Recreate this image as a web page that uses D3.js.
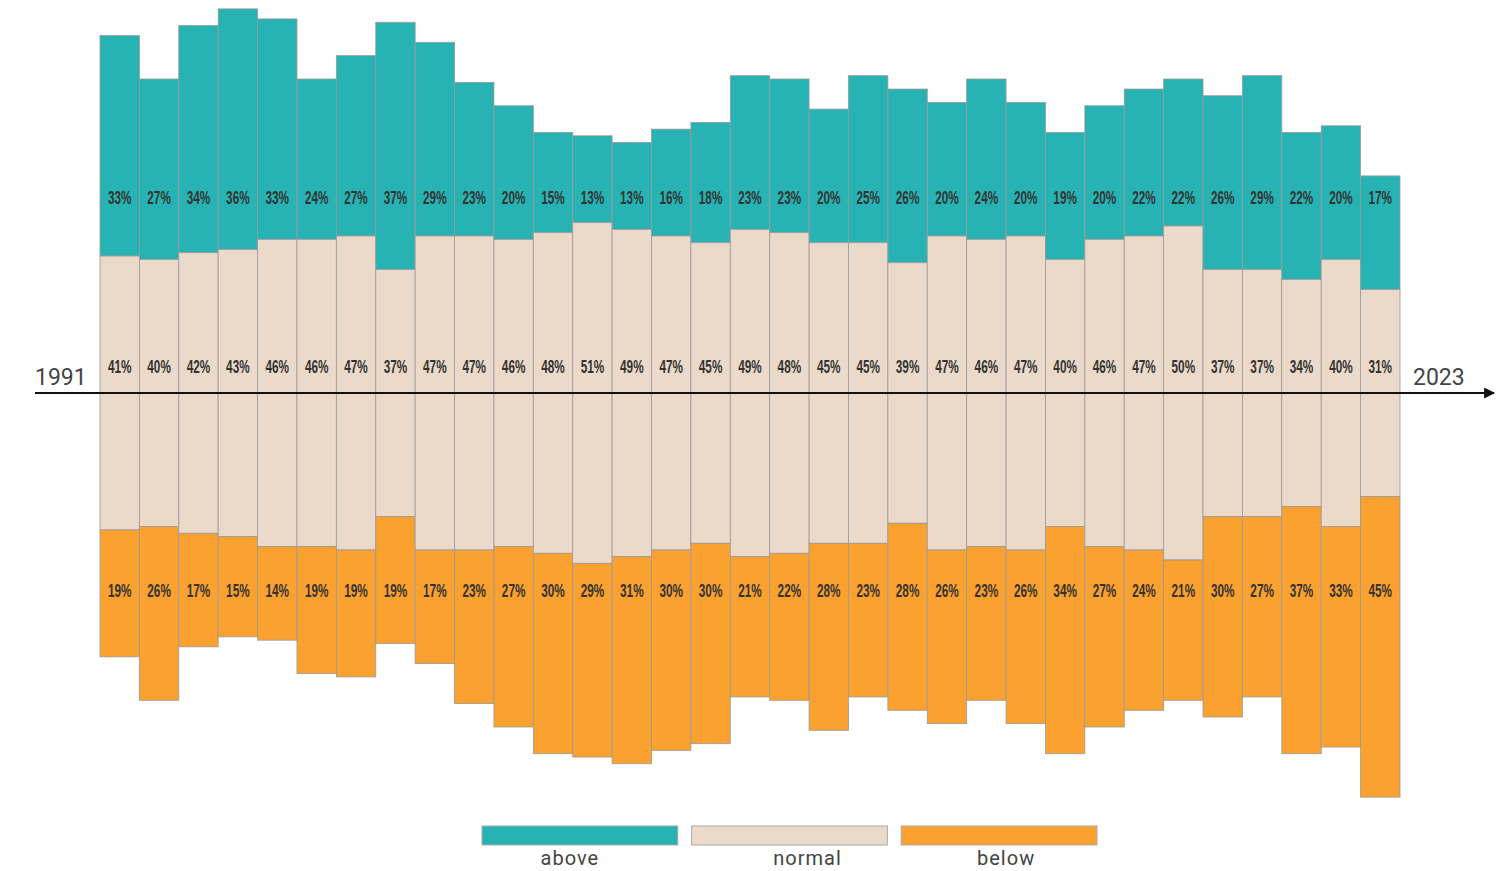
<!DOCTYPE html>
<html lang="en">
<head>
    <meta charset="UTF-8">
    <title>Above / normal / below</title>
    <script src="https://d3js.org/d3.v7.min.js"></script>
    <style>
        body { margin: 0; background: #fff; }
        svg { display: block; }
        .pct { font-family: "Liberation Sans", Arial, sans-serif; font-weight: bold; fill: #333; }
        .yr { font-family: Roboto, "Liberation Sans", sans-serif; fill: #444; }
        .leg { font-family: Roboto, "Liberation Sans", sans-serif; fill: #444; letter-spacing: 1px; }
    </style>
</head>
<body>
    <svg width="1507" height="871"></svg>
    <script>
        // data (% per year)
        const years = d3.range(1991, 2024);
        const above = [33, 27, 34, 36, 33, 24, 27, 37, 29, 23, 20, 15, 13, 13, 16, 18, 23, 23, 20, 25, 26, 20, 24, 20, 19, 20, 22, 22, 26, 29, 22, 20, 17];
        const normal = [41, 40, 42, 43, 46, 46, 47, 37, 47, 47, 46, 48, 51, 49, 47, 45, 49, 48, 45, 45, 39, 47, 46, 47, 40, 46, 47, 50, 37, 37, 34, 40, 31];
        const below = [19, 26, 17, 15, 14, 19, 19, 19, 17, 23, 27, 30, 29, 31, 30, 30, 21, 22, 28, 23, 28, 26, 23, 26, 34, 27, 24, 21, 30, 27, 37, 33, 45];
        const legendLabels = ['above', 'normal', 'below'];
        const colors = ['#27b3b3', '#ebdac9', '#fba12f'];

        const svg = d3.select('svg');
        const axisY = 393;

        const x = d3.scaleBand()
            .domain(years)
            .range([100, 1400])
            .padding(0);

        // percent -> pixel length
        const k = d3.scaleLinear().domain([0, 100]).range([0, 668]);

        const rows = years.map((yr, i) => {
            const nTop = axisY - k(normal[i]) / 2;
            const nBot = axisY + k(normal[i]) / 2;
            return {
                yr,
                segs: [
                    { y0: nTop - k(above[i]), y1: nTop, v: above[i], c: 0 },
                    { y0: nTop, y1: nBot, v: normal[i], c: 1 },
                    { y0: nBot, y1: nBot + k(below[i]), v: below[i], c: 2 }
                ]
            };
        });

        const g = svg.append('g');

        const cols = g.selectAll('g.col')
            .data(rows)
            .enter()
            .append('g')
            .attr('class', 'col')
            .attr('transform', d => `translate(${x(d.yr)},0)`);

        cols.selectAll('rect')
            .data(d => d.segs)
            .enter()
            .append('rect')
            .attr('x', 0)
            .attr('y', s => s.y0)
            .attr('width', x.bandwidth())
            .attr('height', s => s.y1 - s.y0)
            .attr('fill', s => colors[s.c])
            .attr('stroke', '#9a9a9a')
            .attr('stroke-width', 0.8);

        // labels sit on fixed rows
        const labelY = [204, 373, 597];
        cols.selectAll('text')
            .data(d => d.segs)
            .enter()
            .append('text')
            .attr('class', 'pct')
            .attr('text-anchor', 'middle')
            .attr('font-size', 19)
            .attr('transform', s => `translate(${x.bandwidth() / 2},${labelY[s.c]}) scale(0.62,1)`)
            .text(s => s.v + '%');

        // time axis with arrow
        svg.append('defs').append('marker')
            .attr('id', 'arrow')
            .attr('viewBox', '0 0 10 10')
            .attr('refX', 9).attr('refY', 5)
            .attr('markerWidth', 14).attr('markerHeight', 11)
            .attr('markerUnits', 'userSpaceOnUse')
            .attr('orient', 'auto')
            .append('path')
            .attr('d', 'M0,0 L10,5 L0,10 z')
            .attr('fill', '#111');

        svg.append('line')
            .attr('x1', 35).attr('x2', 1494)
            .attr('y1', axisY).attr('y2', axisY)
            .attr('stroke', '#111')
            .attr('stroke-width', 2)
            .attr('marker-end', 'url(#arrow)');

        svg.append('text').attr('class', 'yr')
            .attr('x', 35).attr('y', 385)
            .attr('font-size', 23)
            .text(years[0]);
        svg.append('text').attr('class', 'yr')
            .attr('x', 1413).attr('y', 385)
            .attr('font-size', 23)
            .text(years[years.length - 1]);

        // legend
        const lx = d3.scaleBand().domain(legendLabels).range([482, 1097]).paddingInner(0.066);
        const labelShift = [-10, 18, 7];
        const leg = svg.selectAll('g.leg')
            .data(legendLabels)
            .enter()
            .append('g')
            .attr('transform', d => `translate(${lx(d)},0)`);
        leg.append('rect')
            .attr('x', 0).attr('y', 826)
            .attr('width', lx.bandwidth()).attr('height', 19)
            .attr('fill', (d, i) => colors[i])
            .attr('stroke', '#aaa')
            .attr('stroke-width', 1);
        leg.append('text')
            .attr('class', 'leg')
            .attr('x', (d, i) => lx.bandwidth() / 2 + labelShift[i])
            .attr('y', 865)
            .attr('text-anchor', 'middle')
            .attr('font-size', 20)
            .text(d => d);
    </script>
</body>
</html>
